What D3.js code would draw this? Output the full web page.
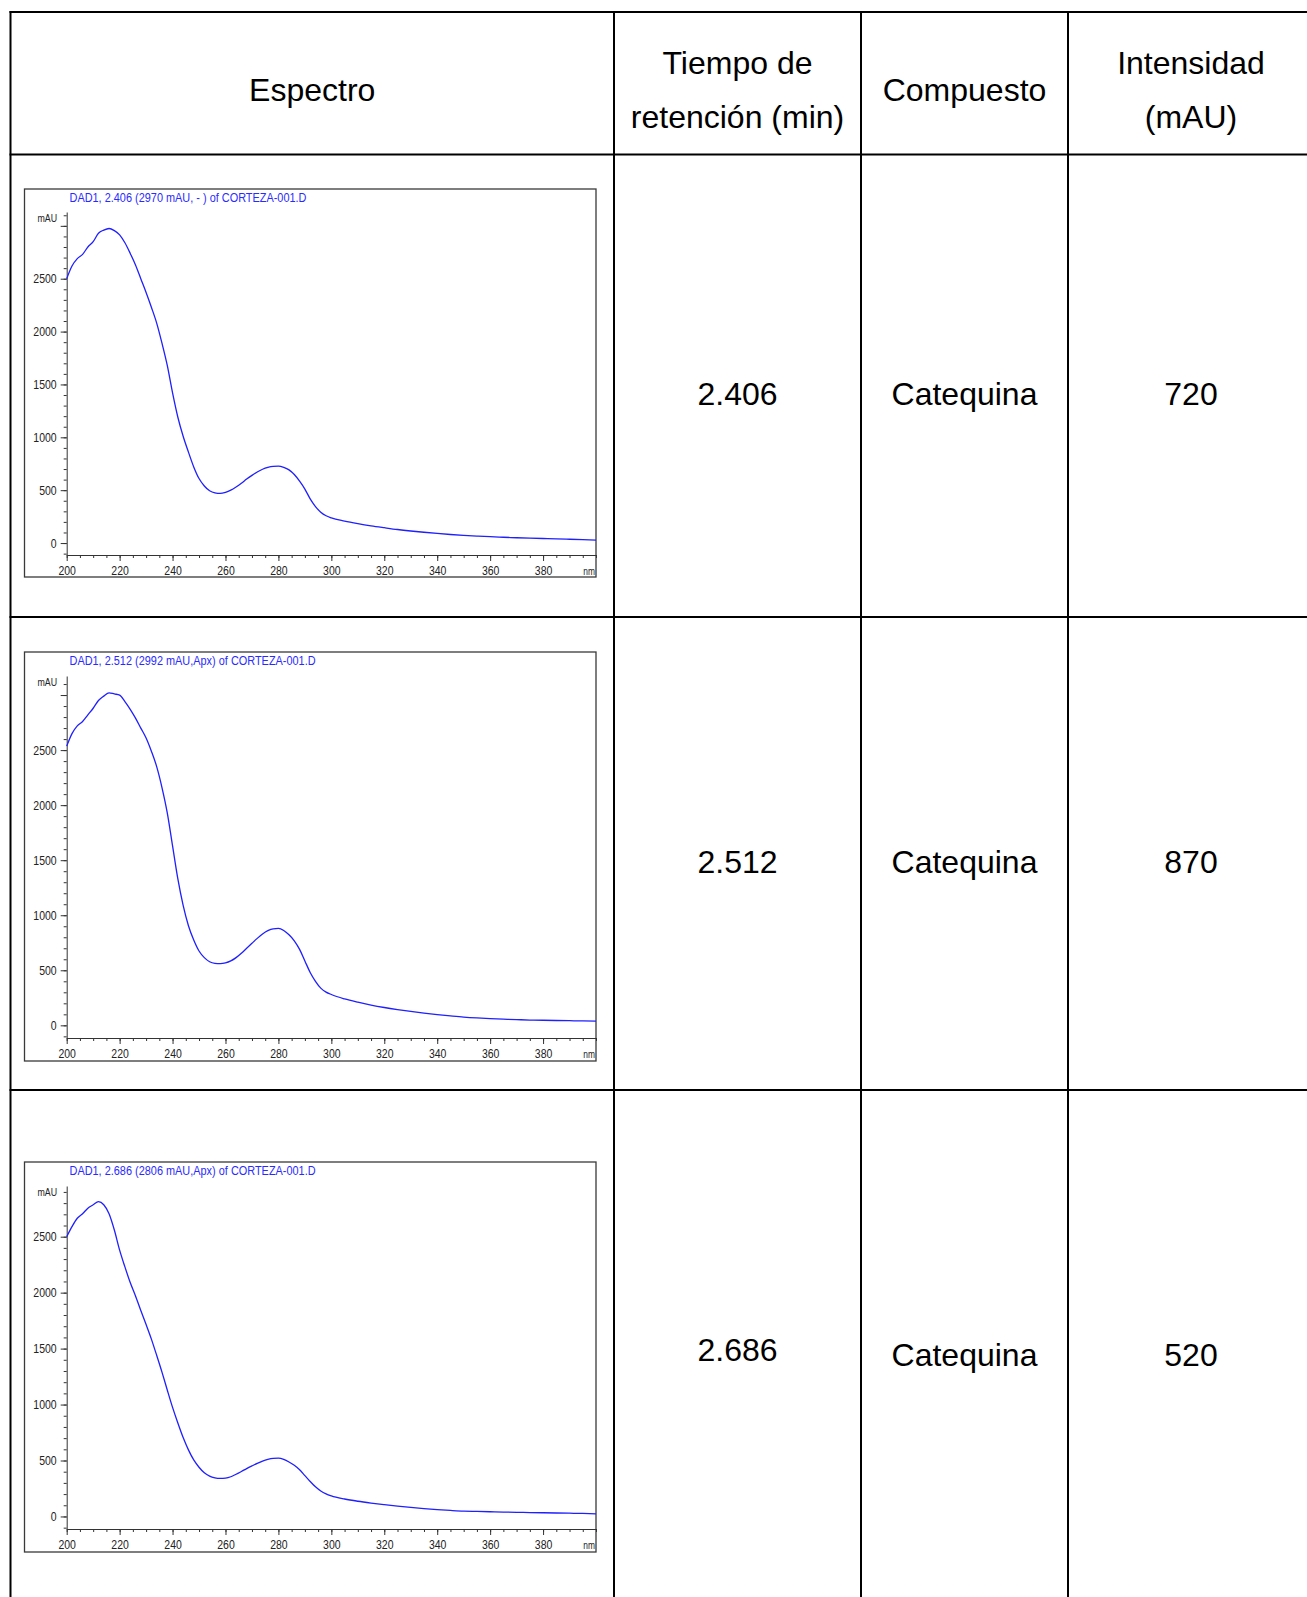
<!DOCTYPE html>
<html>
<head>
<meta charset="utf-8">
<script src="https://cdnjs.cloudflare.com/ajax/libs/d3/7.8.5/d3.min.js"></script>
<style>
  body { margin: 0; background: #fff; }
  .cell { font-family: "Liberation Sans", Arial, sans-serif; font-size: 32px; fill: #000; }
  .spec text { font-family: "Liberation Sans", Arial, sans-serif; }
</style>
</head>
<body>
<div id="chart"></div>
<script>
// table content
const headers = [['Espectro'], ['Tiempo de', 'retención (min)'], ['Compuesto'], ['Intensidad', '(mAU)']];
const retentionTimes = ['2.406', '2.512', '2.686'];
const compounds = ['Catequina', 'Catequina', 'Catequina'];
const intensities = ['720', '870', '520'];

// spectra (DAD1), wavelength in nm, absorbance in mAU
const titles = [
  'DAD1, 2.406 (2970 mAU, - ) of CORTEZA-001.D',
  'DAD1, 2.512 (2992 mAU,Apx) of CORTEZA-001.D',
  'DAD1, 2.686 (2806 mAU,Apx) of CORTEZA-001.D'
];
const wavelengths = [
  200, 202, 204, 206, 208, 210, 212, 214, 216, 218,
  220, 222, 224, 226, 228, 230, 232, 234, 236, 238,
  240, 242, 244, 246, 248, 250, 252, 254, 256, 258,
  260, 262, 264, 266, 268, 270, 272, 274, 276, 278,
  280, 282, 284, 286, 288, 290, 292, 294, 296, 298,
  300, 305, 310, 315, 320, 325, 330, 335, 340, 345,
  350, 355, 360, 365, 370, 375, 380, 385, 390, 395, 400
];
const spectrum1 = [
  2500, 2620, 2690, 2730, 2800, 2850, 2930, 2960, 2975, 2955,
  2915, 2840, 2740, 2630, 2500, 2370, 2230, 2080, 1890, 1680,
  1420, 1190, 1010, 860, 720, 610, 540, 495, 475, 470,
  480, 500, 530, 565, 605, 640, 672, 698, 716, 726,
  728, 716, 692, 648, 585, 510, 418, 345, 292, 258,
  238, 208, 184, 163, 145, 128, 114, 102, 91, 81,
  73, 66, 60, 55, 50, 46, 43, 40, 36, 32, 28
];
const spectrum2 = [
  2536, 2650, 2720, 2760, 2820, 2880, 2950, 2990, 3020, 3010,
  3000, 2940, 2870, 2790, 2700, 2610, 2490, 2350, 2160, 1930,
  1630, 1330, 1090, 905, 775, 675, 615, 578, 563, 560,
  567, 585, 615, 655, 700, 745, 790, 830, 860, 877,
  880, 862, 822, 768, 690, 585, 480, 400, 338, 302,
  280, 240, 210, 184, 162, 143, 126, 111, 98, 86,
  75, 67, 61, 56, 52, 48, 46, 44, 42, 40, 39
];
const spectrum3 = [
  2500, 2590, 2665, 2705, 2755, 2785, 2813, 2785, 2705, 2560,
  2380, 2230, 2090, 1970, 1840, 1715, 1585, 1440, 1290, 1130,
  975, 835, 705, 595, 505, 440, 390, 360, 345, 340,
  343, 355, 377, 402, 428, 452, 475, 495, 510, 519,
  521, 510, 487, 457, 417, 365, 313, 265, 228, 202,
  184, 156, 136, 120, 106, 93, 81, 70, 61, 54,
  48, 45, 42, 39, 37, 35, 33, 31, 29, 27, 24
];
const spectra = [spectrum1, spectrum2, spectrum3];

const width = 1307;
const height = 1597;
const narrow = 0.84;   // the instrument's labels are set in a condensed face

const svg = d3.select('#chart')
  .append('svg')
    .attr('width', width)
    .attr('height', height);

// ---- table grid ----
const colX = [10.5, 614, 861, 1068, 1314];
const rowY = [12, 154.5, 617, 1090, height + 5];
const colCenter = d3.range(4).map(i => (colX[i] + colX[i + 1]) / 2);

const grid = svg.append('g');
rowY.slice(0, 4).forEach(y => {
  grid.append('line')
    .attr('x1', colX[0] - 1).attr('x2', width)
    .attr('y1', y).attr('y2', y)
    .attr('stroke', '#000').attr('stroke-width', 2);
});
colX.slice(0, 4).forEach(x => {
  grid.append('line')
    .attr('x1', x).attr('x2', x)
    .attr('y1', rowY[0] - 1).attr('y2', height)
    .attr('stroke', '#000').attr('stroke-width', 2);
});

// header
headers.forEach((lines, i) => {
  const base = lines.length === 1 ? [101] : [74, 128];
  lines.forEach((t, j) => {
    svg.append('text')
      .attr('class', 'cell')
      .attr('x', colCenter[i])
      .attr('y', base[j])
      .attr('text-anchor', 'middle')
      .text(t);
  });
});

// body rows
const rowBase = [[405, 405, 405], [873, 873, 873], [1361, 1366, 1366]];
retentionTimes.forEach((t, r) => {
  [t, compounds[r], intensities[r]].forEach((v, c) => {
    svg.append('text')
      .attr('class', 'cell')
      .attr('x', colCenter[c + 1])
      .attr('y', rowBase[r][c])
      .attr('text-anchor', 'middle')
      .text(v);
  });
});

// ---- spectra ----
const frames = [
  { top: 189, bottom: 577, axisTop: 212, axisBottom: 555, yDomain: [-113, 3131] },
  { top: 652, bottom: 1061, axisTop: 676, axisBottom: 1038, yDomain: [-115, 3173] },
  { top: 1162, bottom: 1552, axisTop: 1186, axisBottom: 1529, yDomain: [-112, 2953] }
];
const frameLeft = 24.5;
const frameRight = 596;
const plotLeft = 66.7;

const xScale = d3.scaleLinear()
  .domain([200, 400])
  .range([plotLeft, frameRight]);

// condensed text placed at (x, y)
const condensed = (g, x, y, txt) => g.append('text')
  .attr('transform', `translate(${x},${y}) scale(${narrow},1)`)
  .text(txt);

frames.forEach((f, i) => {
  const g = svg.append('g').attr('class', 'spec');

  g.append('rect')
    .attr('x', frameLeft).attr('y', f.top)
    .attr('width', frameRight - frameLeft)
    .attr('height', f.bottom - f.top)
    .attr('fill', '#fff')
    .attr('stroke', '#3a3a3a')
    .attr('stroke-width', 1.3);

  const yScale = d3.scaleLinear()
    .domain(f.yDomain)
    .range([f.axisBottom, f.axisTop]);

  // title
  condensed(g, 69.5, f.top + 12.5, titles[i])
    .attr('fill', '#2a2aff')
    .attr('font-size', 13);

  // y axis
  const yMinor = d3.range(-100, f.yDomain[1], 100);
  const yMajor = d3.range(0, f.yDomain[1], 500);
  g.append('g')
    .attr('transform', `translate(${plotLeft},0)`)
    .call(d3.axisLeft(yScale).tickValues(yMinor).tickSize(3).tickSizeOuter(0).tickFormat(''))
    .call(a => a.selectAll('line,path').attr('stroke', '#333'));
  g.append('g')
    .attr('transform', `translate(${plotLeft},0)`)
    .call(d3.axisLeft(yScale).tickValues(yMajor).tickSize(6).tickSizeOuter(0).tickPadding(4)
      .tickFormat(d => d >= 3000 ? '' : d))
    .call(a => a.select('.domain').remove())
    .call(a => a.selectAll('line').attr('stroke', '#333'))
    .call(a => a.selectAll('text')
      .attr('font-size', 12.5).attr('fill', '#222').attr('font-family', null)
      .attr('x', -10 / narrow)
      .attr('transform', `scale(${narrow},1)`));

  condensed(g, 57, f.axisTop + 10, 'mAU')
    .attr('text-anchor', 'end')
    .attr('font-size', 10.5)
    .attr('fill', '#222');

  // x axis
  g.append('g')
    .attr('transform', `translate(0,${f.axisBottom})`)
    .call(d3.axisBottom(xScale).tickValues(d3.range(200, 401, 5)).tickSize(3).tickSizeOuter(0).tickFormat(''))
    .call(a => a.selectAll('line,path').attr('stroke', '#333'));
  g.append('g')
    .attr('transform', `translate(0,${f.axisBottom})`)
    .call(d3.axisBottom(xScale).tickValues(d3.range(200, 381, 20)).tickSize(6).tickSizeOuter(0).tickPadding(5))
    .call(a => a.select('.domain').remove())
    .call(a => a.selectAll('line').attr('stroke', '#333'))
    .call(a => a.selectAll('text')
      .attr('font-size', 12.5).attr('fill', '#222').attr('font-family', null)
      .attr('transform', `scale(${narrow},1)`));

  condensed(g, frameRight - 1, f.axisBottom + 20, 'nm')
    .attr('text-anchor', 'end')
    .attr('font-size', 10)
    .attr('fill', '#222');

  // curve
  const line = d3.line()
    .x((d, k) => xScale(wavelengths[k]))
    .y(d => yScale(d))
    .curve(d3.curveMonotoneX);

  g.append('path')
    .datum(spectra[i])
    .attr('fill', 'none')
    .attr('stroke', '#1f1fff')
    .attr('stroke-width', 1.3)
    .attr('d', line);
});
</script>
</body>
</html>
